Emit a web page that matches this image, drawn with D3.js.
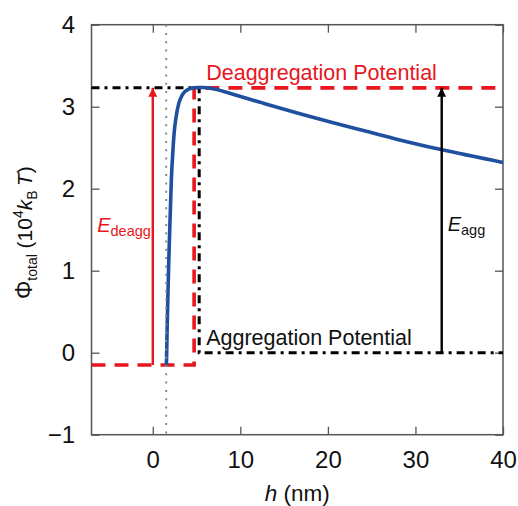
<!DOCTYPE html>
<html>
<head>
<meta charset="utf-8">
<script src="https://cdn.jsdelivr.net/npm/d3@7"></script>
<style>
  html, body { margin: 0; padding: 0; background: #fff; }
  svg { display: block; font-family: "Liberation Sans", Arial, Helvetica, sans-serif; }
</style>
</head>
<body>
<svg id="chart" width="518" height="506"></svg>
<script>
// Total interaction potential versus separation (in 10^4 kBT)
const hNm = [1.56, 1.65, 1.75, 1.83, 1.95, 2.05, 2.13, 2.28, 2.44, 2.67, 2.97, 3.35, 4.1, 5.0, 5.8, 7.0, 9.24, 13.0, 16.8, 20.6, 24.4, 28.2, 32.8, 40.0];
const phiTotal = [-0.15, 0.35, 0.8, 1.13, 1.55, 1.88, 2.13, 2.43, 2.68, 2.88, 3.04, 3.14, 3.215, 3.235, 3.235, 3.215, 3.15, 3.03, 2.915, 2.805, 2.70, 2.595, 2.48, 2.32];

// Reference levels and positions (nm, 10^4 kBT)
const deaggLevel = 3.23;
const aggLevel = 0;
const primaryMin = -0.15;
const hContact = 1.53;
const hRedStep = 4.72;
const hBlackStep = 5.3;
const hDeaggArrow = 0;
const hAggArrow = 33;

const xTicks = [0, 10, 20, 30, 40];
const yTicks = [-1, 0, 1, 2, 3, 4];
const xDomain = [-7, 40];
const yDomain = [-1, 4];

const RED = "#e8161d";
const BLUE = "#1f4f9f";
const FRAME = "#555";

const svg = d3.select("#chart");
const pLeft = 91.5, pRight = 503, pTop = 24.7, pBottom = 434.7;

const x = d3.scaleLinear().domain(xDomain).range([pLeft, pRight]);
const y = d3.scaleLinear().domain(yDomain).range([pBottom, pTop]);

// arrow markers
const defs = svg.append("defs");
function marker(id, color) {
  defs.append("marker")
    .attr("id", id)
    .attr("viewBox", "0 0 10 10")
    .attr("refX", 10).attr("refY", 5)
    .attr("markerUnits", "userSpaceOnUse")
    .attr("markerWidth", 17).attr("markerHeight", 9)
    .attr("orient", "auto")
    .append("path")
    .attr("d", "M0,0 L10,5 L0,10 Z")
    .attr("fill", color);
}
marker("headRed", RED);
marker("headBlack", "#000");

// axes with inward ticks
const axisFont = 24;
const gx = svg.append("g").attr("transform", `translate(0,${pBottom})`)
  .call(d3.axisBottom(x).tickValues(xTicks).tickSize(-8).tickPadding(16.5).tickFormat(d3.format("d")));
const gxTop = svg.append("g").attr("transform", `translate(0,${pTop})`)
  .call(d3.axisTop(x).tickValues(xTicks).tickSize(-8).tickFormat(""));
const gy = svg.append("g").attr("transform", `translate(${pLeft},0)`)
  .call(d3.axisLeft(y).tickValues(yTicks).tickSize(-8).tickPadding(16.5)
    .tickFormat(d => d < 0 ? "\u2212" + Math.abs(d) : d));
const gyRight = svg.append("g").attr("transform", `translate(${pRight},0)`)
  .call(d3.axisRight(y).tickValues(yTicks).tickSize(-8).tickFormat(""));

[gx, gxTop, gy, gyRight].forEach(g => {
  g.select(".domain").remove();
  g.selectAll(".tick line").attr("stroke", FRAME).attr("stroke-width", 1.3);
  g.selectAll(".tick text").attr("font-size", axisFont).attr("fill", "#111")
    .attr("font-family", "Liberation Sans, Arial, sans-serif");
});

svg.append("rect")
  .attr("x", pLeft).attr("y", pTop)
  .attr("width", pRight - pLeft).attr("height", pBottom - pTop)
  .attr("fill", "none").attr("stroke", FRAME).attr("stroke-width", 1.5);

const plot = svg.append("g");
const line = d3.line().x(d => x(d[0])).y(d => y(d[1]));

// red dashed: deaggregation path
plot.append("path")
  .datum([[xDomain[0], primaryMin], [hRedStep, primaryMin], [hRedStep, deaggLevel], [xDomain[1], deaggLevel]])
  .attr("d", line)
  .attr("fill", "none").attr("stroke", RED).attr("stroke-width", 3.6)
  .attr("stroke-dasharray", "14,9");

// black dash-dot: aggregation path
plot.append("path")
  .datum([[xDomain[0], deaggLevel], [hBlackStep, deaggLevel], [hBlackStep, aggLevel], [xDomain[1], aggLevel]])
  .attr("d", line)
  .attr("fill", "none").attr("stroke", "#000").attr("stroke-width", 3)
  .attr("stroke-dasharray", "8,5,3,5");

// potential curve
plot.append("path")
  .datum(hNm.map((h, i) => [h, phiTotal[i]]))
  .attr("d", d3.line().x(d => x(d[0])).y(d => y(d[1])).curve(d3.curveMonotoneX))
  .attr("fill", "none").attr("stroke", BLUE).attr("stroke-width", 3.6)
  .attr("stroke-linejoin", "round");

// contact position (dotted)
plot.append("line")
  .attr("x1", x(hContact)).attr("x2", x(hContact))
  .attr("y1", pTop).attr("y2", pBottom)
  .attr("stroke", "#8a8a8a").attr("stroke-width", 2)
  .attr("stroke-dasharray", "2,6.3");

// energy arrows
plot.append("line")
  .attr("x1", x(hDeaggArrow)).attr("x2", x(hDeaggArrow))
  .attr("y1", y(primaryMin)).attr("y2", y(deaggLevel))
  .attr("stroke", RED).attr("stroke-width", 2.4)
  .attr("marker-end", "url(#headRed)");
plot.append("line")
  .attr("x1", x(hAggArrow)).attr("x2", x(hAggArrow))
  .attr("y1", y(aggLevel)).attr("y2", y(deaggLevel))
  .attr("stroke", "#000").attr("stroke-width", 2.4)
  .attr("marker-end", "url(#headBlack)");

// annotations
const annoFont = 21.5;
svg.append("text")
  .attr("x", x(6.1)).attr("y", y(deaggLevel) - 8)
  .attr("font-size", annoFont).attr("fill", RED)
  .text("Deaggregation Potential");
svg.append("text")
  .attr("x", x(6.1)).attr("y", y(aggLevel) - 8)
  .attr("font-size", annoFont).attr("fill", "#111")
  .text("Aggregation Potential");

function energyLabel(px, py, sub, color) {
  const t = svg.append("text").attr("x", px).attr("y", py).attr("fill", color);
  t.append("tspan").attr("font-size", 20).attr("font-style", "italic").text("E");
  t.append("tspan").attr("font-size", 14.5).attr("dy", 4).text(sub);
}
energyLabel(x(-6.35), y(1.475), "deagg", RED);
energyLabel(x(hAggArrow) + 6, y(1.485), "agg", "#111");

// x axis title
const xt = svg.append("text")
  .attr("x", (pLeft + pRight) / 2).attr("y", 501)
  .attr("text-anchor", "middle").attr("font-size", 22.5).attr("fill", "#111");
xt.append("tspan").attr("font-style", "italic").text("h");
xt.append("tspan").text(" (nm)");

// y axis title
const yt = svg.append("text")
  .attr("transform", `translate(31.5,${(pTop + pBottom) / 2 + 3}) rotate(-90)`)
  .attr("text-anchor", "middle").attr("font-size", 21).attr("fill", "#111");
yt.append("tspan").attr("font-size", 23).text("\u03A6");
yt.append("tspan").attr("font-size", 14).attr("dy", 5).text("total");
yt.append("tspan").attr("dy", -5).text(" (10");
yt.append("tspan").attr("font-size", 14).attr("dy", -9).text("4");
yt.append("tspan").attr("font-style", "italic").attr("dy", 9).text("k");
yt.append("tspan").attr("font-size", 14).attr("dy", 5).text("B");
yt.append("tspan").attr("font-style", "italic").attr("dy", -5).text("\u2009T");
yt.append("tspan").text(")");
</script>
</body>
</html>
